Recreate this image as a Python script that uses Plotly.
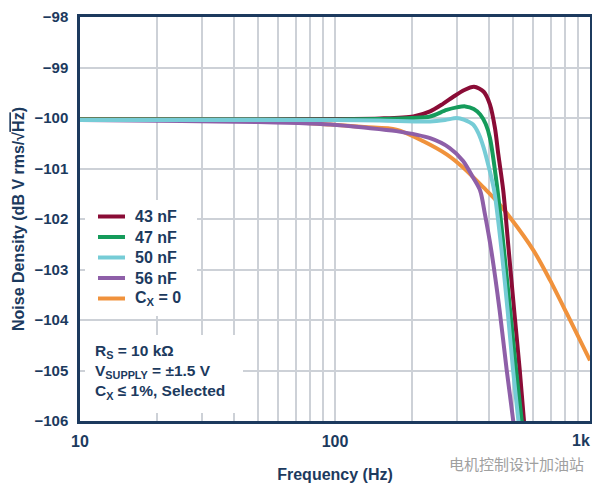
import plotly.graph_objects as go

# ---- data ----
f_43 = [10, 50, 100, 150, 203, 236, 265, 291, 320, 351, 383, 405, 424, 437, 457, 480, 504, 530, 551, 570]
v_43 = [-100.03, -100.03, -100.02, -100.01, -99.97, -99.87, -99.72, -99.58, -99.45, -99.38, -99.48, -99.73,
        -100.2, -100.72, -101.44, -102.62, -103.80, -104.98, -106.0, -106.8]

f_47 = [10, 100, 150, 200, 236, 274, 300, 324, 350, 371, 390, 405, 432, 460, 486, 513, 540, 560]
v_47 = [-100.03, -100.03, -100.02, -100.0, -99.97, -99.84, -99.79, -99.77, -99.82, -99.93, -100.12, -100.39,
        -101.35, -102.62, -103.80, -104.98, -106.0, -106.8]

f_50 = [10, 100, 150, 236, 270, 300, 320, 348, 365, 383, 400, 421, 450, 475, 499, 524, 545]
v_50 = [-100.04, -100.04, -100.05, -100.07, -100.04, -100.0, -100.03, -100.13, -100.3, -100.59, -100.95,
        -101.44, -102.62, -103.80, -104.98, -106.0, -106.8]

f_56 = [10, 25, 50, 72, 96, 130, 174, 236, 281, 318, 348, 371, 387, 410, 442, 471, 500, 520]
v_56 = [-100.04, -100.06, -100.08, -100.10, -100.13, -100.19, -100.26, -100.4, -100.59, -100.85, -101.18,
        -101.44, -101.9, -102.62, -103.80, -104.98, -106.0, -106.8]

f_cx0 = [10, 50, 96, 130, 174, 222, 274, 318, 383, 430, 486, 600, 697, 811, 1000]
v_cx0 = [-100.03, -100.05, -100.13, -100.18, -100.23, -100.46, -100.72, -100.98, -101.38, -101.64, -101.97,
         -102.62, -103.21, -103.87, -104.8]

x_grid = [10, 20, 30, 40, 50, 60, 70, 80, 90, 100, 200, 300, 400, 500, 600, 700, 800, 900, 1000]
x_labels = ["10", "", "", "", "", "", "", "", "", "100", "", "", "", "", "", "", "", "", ""]
last_x_label = "1k"
y_ticks = [-106, -105, -104, -103, -102, -101, -100, -99, -98]

names = ["43 nF", "47 nF", "50 nF", "56 nF", "C<sub>X</sub> = 0"]
colors = ["#8a0c36", "#159b5b", "#76ccd6", "#8e5fa8", "#f0923c"]

NAVY = "#1c3a5e"
GRID = "#cdd1d7"
FONT = "Liberation Sans"

series = [(f_43, v_43), (f_47, v_47), (f_50, v_50), (f_56, v_56), (f_cx0, v_cx0)]
draw_order = [4, 3, 0, 1, 2]

# page is drawn with an 8px body offset; plot area lands at x 80..590, y 17..421
OFF = 8
W, H = 600, 490
ML, MR, MT, MB = 80 - OFF, 18, 9, 77
PW = W - ML - MR
PH = H - MT - MB


def px(x):
    return (x - ML - OFF) / PW


def py(y):
    return 1 - (y - MT - OFF) / PH


fig = go.Figure()
for i in draw_order:
    fx, fy = series[i]
    fig.add_trace(go.Scatter(
        x=fx, y=fy, mode="lines", name=names[i], showlegend=False,
        line=dict(color=colors[i], width=4, shape="spline", smoothing=0.8),
        hoverinfo="skip",
    ))

shapes = [
    # white backing of the legend and of the conditions box
    dict(type="rect", xref="paper", yref="paper", x0=px(85), x1=px(197), y0=py(316), y1=py(200),
         fillcolor="white", line=dict(width=0), layer="above"),
    dict(type="rect", xref="paper", yref="paper", x0=px(85), x1=px(243), y0=py(413), y1=py(335),
         fillcolor="white", line=dict(width=0), layer="above"),
]
annotations = []
row0, row_step = 216.5, 20.5
for k, (nm, col) in enumerate(zip(names, colors)):
    yy = py(row0 + k * row_step)
    shapes.append(dict(type="line", xref="paper", yref="paper", x0=px(98), x1=px(125), y0=yy, y1=yy,
                       line=dict(color=col, width=4), layer="above"))
    annotations.append(dict(xref="paper", yref="paper", x=px(133), y=yy, xanchor="left", yanchor="middle",
                            text=nm, showarrow=False,
                            font=dict(family=FONT, size=16, color=NAVY, weight="bold")))

annotations.append(dict(
    xref="paper", yref="paper", x=px(93), y=py(371.5), xanchor="left", yanchor="middle",
    text="R<sub>S</sub> = 10 kΩ<br>V<sub>SUPPLY</sub> = ±1.5 V<br>C<sub>X</sub> ≤ 1%, Selected",
    align="left", showarrow=False,
    font=dict(family=FONT, size=15.5, color=NAVY, weight="bold"),
))
# last x tick label, kept inside the visible edge
annotations.append(dict(
    xref="paper", yref="paper", x=px(591), y=py(440), xanchor="right", yanchor="middle",
    text=last_x_label, showarrow=False, borderpad=0,
    font=dict(family=FONT, size=16, color=NAVY, weight="bold"),
))
annotations.append(dict(
    xref="paper", yref="paper", x=px(447), y=py(463), xanchor="left", yanchor="middle",
    text="电机控制设计加油站", showarrow=False,
    font=dict(family="Noto Sans CJK SC", size=15, color="#a0a0a0"),
))

fig.update_layout(
    width=W, height=H,
    margin=dict(l=ML, r=MR, t=MT, b=MB),
    paper_bgcolor="white", plot_bgcolor="white",
    font=dict(family=FONT, color=NAVY, size=15),
    showlegend=False,
    shapes=shapes, annotations=annotations,
    xaxis=dict(
        type="log", range=[1, 3], automargin=False,
        tickvals=x_grid, ticktext=x_labels, ticklabeloverflow="allow",
        showgrid=True, gridcolor=GRID, gridwidth=1.5,
        showline=True, linecolor=NAVY, linewidth=2.5, mirror=True,
        ticks="", zeroline=False, ticklabelstandoff=4,
        tickfont=dict(family=FONT, size=16, color=NAVY, weight="bold"),
        title=dict(text="Frequency (Hz)", standoff=20,
                   font=dict(family=FONT, size=16, color=NAVY, weight="bold")),
    ),
    yaxis=dict(
        range=[-106, -98], tickvals=y_ticks, automargin=False, ticklabeloverflow="allow",
        showgrid=True, gridcolor=GRID, gridwidth=1.5,
        showline=True, linecolor=NAVY, linewidth=2.5, mirror=True,
        ticks="", zeroline=False, ticklabelstandoff=6,
        tickfont=dict(family=FONT, size=15, color=NAVY, weight="bold"),
        title=dict(text="Noise Density (dB V rms/√<span style='text-decoration:overline'>Hz</span>)",
                   standoff=6,
                   font=dict(family=FONT, size=16, color=NAVY, weight="bold")),
    ),
)

fig.write_html("out.html")
